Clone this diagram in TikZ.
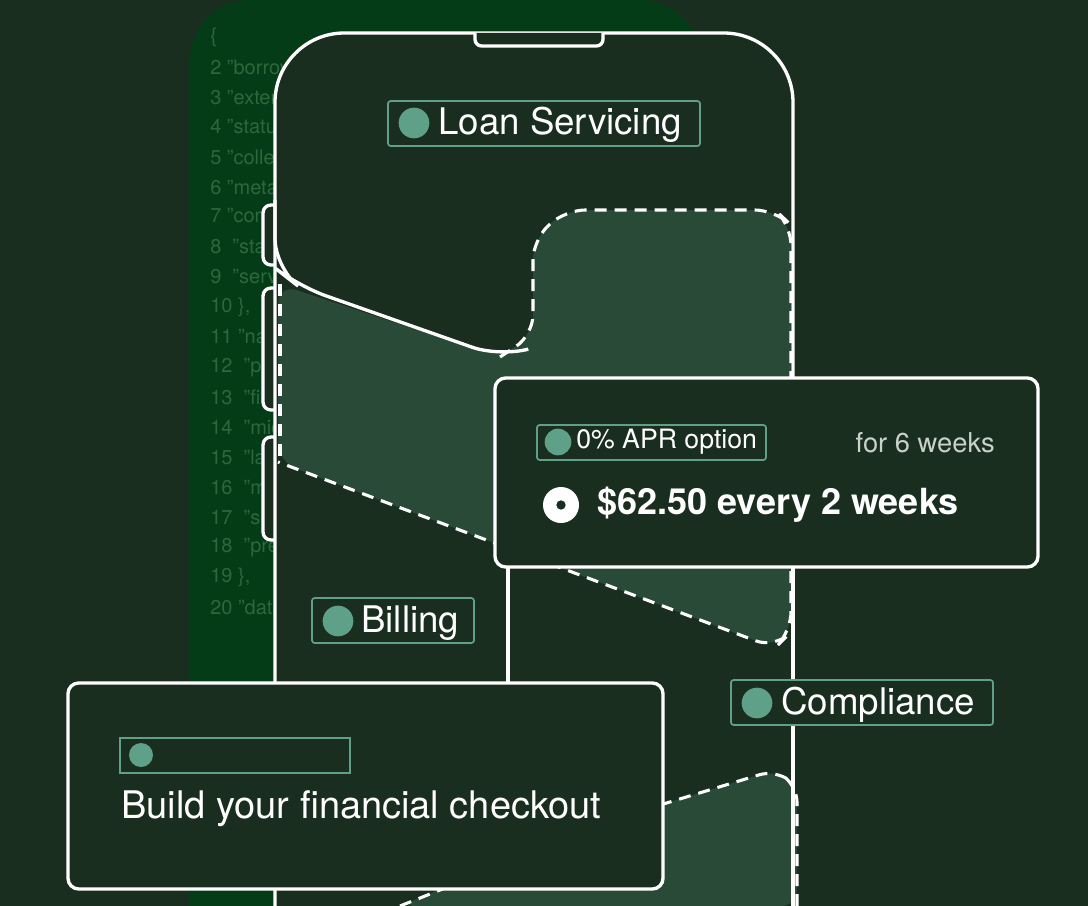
\documentclass[tikz,border=0pt]{standalone}
\usepackage{fontspec}
\setmainfont{TeX Gyre Heros}
\begin{document}
\definecolor{bg}{RGB}{26,46,31}
\definecolor{codebg}{RGB}{4,60,24}
\definecolor{mid}{RGB}{42,74,56}
\definecolor{teal}{RGB}{94,160,136}
\definecolor{codetx}{RGB}{44,104,60}
\definecolor{soft}{RGB}{200,210,200}
\begin{tikzpicture}[x=0.75pt,y=-0.75pt,
  wl/.style={draw=white,line width=2.5pt},
  dl/.style={draw=white,line width=2.3pt,dash pattern=on 9pt off 6pt},
  tag/.style={draw=teal,line width=1.3pt,rounded corners=2pt,fill=bg},
  dot/.style={fill=teal,circle,inner sep=0pt,minimum size=#1},
  card/.style={wl,fill=bg,rounded corners=8pt},
  code/.style={anchor=west,text=codetx,font=\fontsize{15}{15}\selectfont,inner sep=0pt}]
\fill[bg] (0,0) rectangle (1088,906);
\useasboundingbox (0,0) rectangle (1088,906);
% code panel
\fill[codebg,rounded corners=45pt] (190,1000) -- (190,0) -- (700,0) -- (700,1000) -- cycle;
\foreach \t [count=\i] in {{\{},{2 "borrower},{3 "external},{4 "status},{5 "collection},{6 "metadata},{7 "config},{8 \ "status},{9 \ "service},{10 \},},{11 "name},{12 \ "prefix},{13 \ "first},{14 \ "middle},{15 \ "last},{16 \ "maiden},{17 \ "suffix},{18 \ "preferred},{19 \},},{20 "data}}
  \node[code] (c\i) at (210,{7+30*\i}) {\t};
% side buttons
\foreach \a/\b [count=\i] in {205/265,288/410,437/540}
  \draw[wl,fill=bg,rounded corners=6pt] (285,\a) -- (263,\a) -- (263,\b) -- (285,\b);
% phone
\fill[bg,rounded corners=52pt] (275,1000) -- (275,33) -- (793,33) -- (793,1000) -- cycle;
\draw[wl,rounded corners=52pt] (275,1000) -- (275,33) -- (793,33) -- (793,1000);
\draw[wl,fill=bg,rounded corners=5pt] (475,33) -- (475,46) -- (603,46) -- (603,33);
% medium region
\fill[mid,rounded corners=15pt] (278,284) -- (500,357) -- (533,335) -- (533,240) -- (565,210) -- (775,210) -- (791,225) -- (791,632) -- (775,648) -- (278,462) -- cycle;
\draw[dl,rounded corners=15pt] (500,357) -- (533,335) -- (533,240) -- (565,210) -- (775,210) -- (791,225) -- (791,632) -- (775,648) -- (278,462);
\draw[dl] (280,284) -- (280,462);
\draw[wl,rounded corners=22pt] (275,200) -- (275,268) -- (298,286) -- (500,357) -- (525,350);
% lower-right medium
\fill[mid,rounded corners=12pt] (400,906) -- (450,885) -- (660,805) -- (775,770) -- (797,786) -- (797,906) -- cycle;
\draw[dl,rounded corners=12pt] (660,805) -- (775,770) -- (797,786) -- (797,906);
\draw[dl] (400,906) -- (445,888);
% phone right edge redraw
\draw[wl] (793,400) -- (793,906);
\draw[wl] (508,560) -- (508,690);
% APR card
\draw[card] (495,378) rectangle (1038,567);
\draw[tag] (537,425) rectangle (766,460);
\node[dot=20pt] (d1) at (558,442) {};
\node[anchor=west,text=white,font=\fontsize{20}{20}\selectfont,inner sep=0pt] (t1) at (576,442) {0\% APR option};
\node[anchor=east,text=soft,font=\fontsize{20.5}{20}\selectfont,inner sep=0pt] (t2) at (995,443) {for 6 weeks};
\node[circle,fill=white,minimum size=27pt,inner sep=0pt] (r) at (561,505) {};
\node[circle,fill=bg,minimum size=7pt,inner sep=0pt] at (r) {};
\node[anchor=west,text=white,font=\bfseries\fontsize{27}{27}\selectfont,inner sep=0pt] (t3) at (597,505) {\$62.50 every 2 weeks};
% tags
\draw[tag] (388,101) rectangle (700,146);
\node[dot=23pt] at (414,123) {};
\node[anchor=west,text=white,font=\fontsize{27.5}{27}\selectfont,inner sep=0pt] (ls) at (438,125) {Loan Servicing};
\draw[tag] (312,598) rectangle (474,643);
\node[dot=23pt] at (338,621) {};
\node[anchor=west,text=white,font=\fontsize{27.5}{27}\selectfont,inner sep=0pt] (bl) at (361,623) {Billing};
\draw[tag] (731,680) rectangle (993,725);
\node[dot=23pt] at (757,703) {};
\node[anchor=west,text=white,font=\fontsize{27.5}{27}\selectfont,inner sep=0pt] (cp) at (781,705) {Compliance};
% build card
\draw[card] (68,683) rectangle (663,889);
\draw[tag,rounded corners=0pt] (120,738) rectangle (350,773);
\node[dot=18pt] at (141,755) {};
\node[anchor=west,text=white,font=\fontsize{28.5}{28}\selectfont,inner sep=0pt] (bc) at (121,809) {Build your financial checkout};
\end{tikzpicture}
\end{document}
